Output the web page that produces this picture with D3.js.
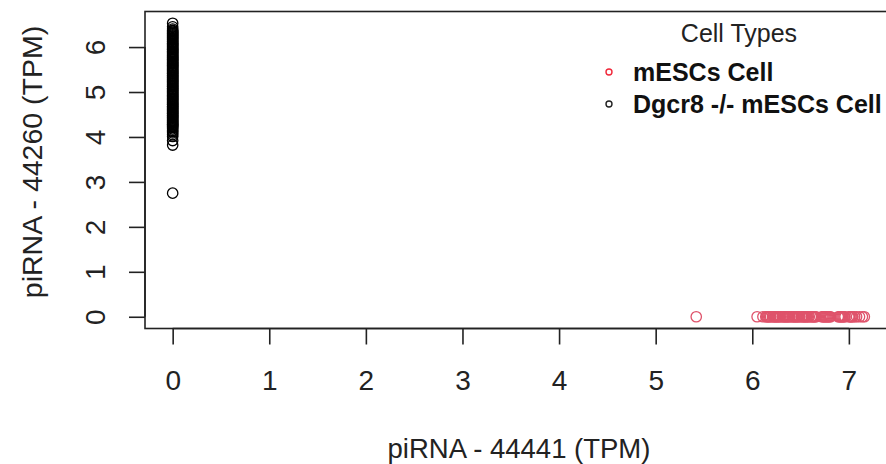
<!DOCTYPE html>
<html>
<head>
<meta charset="utf-8">
<script src="https://cdn.jsdelivr.net/npm/d3@7"></script>
<style>
  body { margin: 0; background: #fff; }
  text { font-family: "Liberation Sans", Arial, sans-serif; fill: #222; }
</style>
</head>
<body>
<div id="chart"></div>
<script>
// mESCs cells: piRNA-44441 values (piRNA-44260 is 0 for all of them)
var mescX = [5.42, 6.05, 6.11, 6.14, 6.15, 6.16, 6.17, 6.18, 6.19, 6.21, 6.22, 6.23, 6.24, 6.25,
  6.26, 6.27, 6.28, 6.29, 6.31, 6.32, 6.33, 6.34, 6.35, 6.36, 6.37, 6.38, 6.39, 6.41, 6.42,
  6.43, 6.44, 6.45, 6.46, 6.47, 6.48, 6.49, 6.51, 6.52, 6.53, 6.54, 6.55, 6.56, 6.57, 6.58,
  6.59, 6.61, 6.62, 6.63, 6.64, 6.65, 6.66, 6.72, 6.73, 6.74, 6.75, 6.76, 6.77, 6.78, 6.79,
  6.80, 6.81, 6.89, 6.90, 6.91, 6.92, 6.93, 6.94, 6.95, 6.96, 7.00, 7.01, 7.02, 7.03, 7.04,
  7.06, 7.08, 7.11, 7.14, 7.16];

// Dgcr8 -/- mESCs cells: piRNA-44260 values (piRNA-44441 is 0 for all of them)
var dgcrY = [6.53, 6.45, 6.40, 6.37, 6.35, 6.33, 6.31, 6.29, 6.27, 6.25, 6.23, 6.21, 6.19, 6.17,
  6.15, 6.12, 6.11, 6.08, 6.07, 6.05, 6.03, 6.01, 5.99, 5.97, 5.95, 5.94, 5.91, 5.90, 5.88,
  5.86, 5.84, 5.82, 5.80, 5.78, 5.77, 5.74, 5.73, 5.71, 5.69, 5.67, 5.65, 5.63, 5.62, 5.59,
  5.58, 5.56, 5.54, 5.52, 5.50, 5.48, 5.46, 5.44, 5.42, 5.41, 5.38, 5.37, 5.35, 5.33, 5.31,
  5.29, 5.27, 5.26, 5.23, 5.22, 5.20, 5.18, 5.16, 5.14, 5.12, 5.11, 5.08, 5.07, 5.05, 5.03,
  5.01, 4.99, 4.97, 4.95, 4.93, 4.91, 4.90, 4.87, 4.86, 4.84, 4.82, 4.80, 4.78, 4.76, 4.74,
  4.72, 4.71, 4.68, 4.67, 4.65, 4.63, 4.61, 4.59, 4.57, 4.55, 4.53, 4.52, 4.49, 4.48, 4.46,
  4.44, 4.42, 4.40, 4.38, 4.36, 4.34, 4.32, 4.30, 4.28, 4.27, 4.25, 4.23, 4.21, 4.18, 4.15,
  4.12, 4.09, 4.05, 4.01, 3.92, 3.82, 2.75];

var xTicks = [0, 1, 2, 3, 4, 5, 6, 7];
var yTicks = [0, 1, 2, 3, 4, 5, 6];
var groups = ["mESCs Cell", "Dgcr8 -/- mESCs Cell"];
var groupColors = ["#DF536B", "#000000"];
var legendColors = ["#f0283a", "#222222"];

var width = 886, height = 464;
var font = '"Liberation Sans", Arial, sans-serif';

var points = mescX.map(function(v) { return {x: v, y: 0, g: 0}; })
  .concat(dgcrY.map(function(v) { return {x: 0, y: v, g: 1}; }));

// R style 4% padding around the data range
var xExt = d3.extent(points, function(d) { return d.x; }),
    yExt = d3.extent(points, function(d) { return d.y; });
var xPad = (xExt[1] - xExt[0]) * 0.04,
    yPad = (yExt[1] - yExt[0]) * 0.04;

var x = d3.scaleLinear()
  .domain([xExt[0] - xPad, xExt[1] + xPad])
  .range([145, 892]);
var y = d3.scaleLinear()
  .domain([yExt[0] - yPad, yExt[1] + yPad])
  .range([328.5, 11.5]);

var svg = d3.select('#chart').append('svg')
  .attr('width', width)
  .attr('height', height);

// points
svg.append('g').selectAll('circle')
  .data(points)
  .enter().append('circle')
  .attr('cx', function(d) { return x(d.x); })
  .attr('cy', function(d) { return y(d.y); })
  .attr('r', 5.2)
  .attr('fill', 'none')
  .attr('stroke', function(d) { return groupColors[d.g]; })
  .attr('stroke-width', 1.3);

// box
svg.append('rect')
  .attr('x', x.range()[0]).attr('y', y.range()[1])
  .attr('width', x.range()[1] - x.range()[0])
  .attr('height', y.range()[0] - y.range()[1])
  .attr('fill', 'none').attr('stroke', '#222').attr('stroke-width', 1.6);

// x axis
var xAxis = svg.append('g')
  .attr('transform', 'translate(0,' + y.range()[0] + ')')
  .call(d3.axisBottom(x).tickValues(xTicks).tickSize(16).tickFormat(d3.format('d')));
xAxis.select('.domain')
  .attr('d', 'M' + x(0) + ',0H' + x(7))
  .attr('stroke', '#222').attr('stroke-width', 1.6);
xAxis.selectAll('line').attr('stroke', '#222').attr('stroke-width', 1.6);
xAxis.selectAll('text')
  .attr('y', 61).attr('dy', null)
  .attr('font-size', 28).attr('font-family', font)
  .style('fill', '#222');

// y axis
var yAxis = svg.append('g')
  .attr('transform', 'translate(' + x.range()[0] + ',0)')
  .call(d3.axisLeft(y).tickValues(yTicks).tickSize(16).tickFormat(d3.format('d')));
yAxis.select('.domain').attr('d', 'M0,' + y(0) + 'V' + y(6))
  .attr('stroke', '#222').attr('stroke-width', 1.6);
yAxis.selectAll('line').attr('stroke', '#222').attr('stroke-width', 1.6);
yAxis.selectAll('text')
  .attr('x', null).attr('dy', null).attr('y', 0)
  .attr('font-size', 28).attr('font-family', font)
  .style('fill', '#222')
  .attr('text-anchor', 'middle')
  .attr('transform', 'translate(-40,0) rotate(-90)');

// axis titles
svg.append('text')
  .attr('x', 519).attr('y', 458)
  .attr('text-anchor', 'middle')
  .attr('font-size', 27.5)
  .text('piRNA - 44441 (TPM)');

svg.append('text')
  .attr('transform', 'translate(42,162) rotate(-90)')
  .attr('text-anchor', 'middle')
  .attr('font-size', 28.5)
  .text('piRNA - 44260 (TPM)');

// legend
var legend = svg.append('g');
legend.append('text')
  .attr('x', 739).attr('y', 42)
  .attr('text-anchor', 'middle')
  .attr('font-size', 25)
  .text('Cell Types');

legend.selectAll('.item')
  .data(groups)
  .enter().append('g')
  .attr('class', 'item')
  .each(function(d, i) {
    var g = d3.select(this);
    var cy = 72 + i * 32;
    g.append('circle')
      .attr('cx', 609).attr('cy', cy).attr('r', 3)
      .attr('fill', 'none')
      .attr('stroke', legendColors[i])
      .attr('stroke-width', 1.4);
    g.append('text')
      .attr('x', 633).attr('y', cy + 9)
      .attr('font-size', 25)
      .attr('font-weight', 'bold')
      .style('fill', '#111')
      .text(d);
  });
</script>
</body>
</html>
